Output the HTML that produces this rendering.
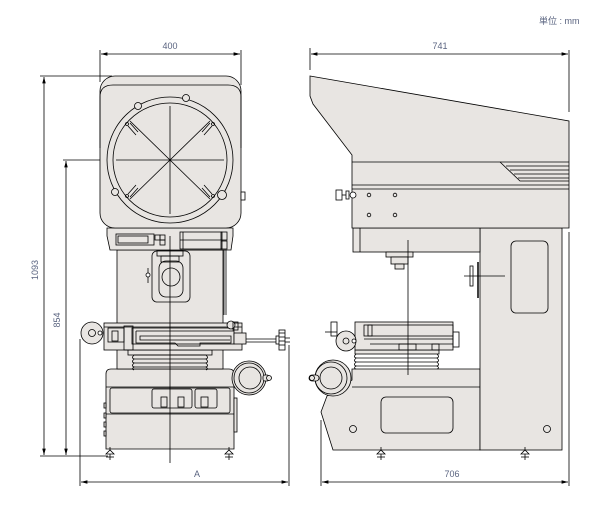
<!DOCTYPE html>
<html><head><meta charset="utf-8"><style>
html,body{margin:0;padding:0;background:#fff;width:603px;height:515px;overflow:hidden}
svg{display:block}
text{font-family:"Liberation Sans","Noto Sans CJK JP",sans-serif;font-size:9px;fill:#5a6480}
</style></head><body>
<svg width="603" height="515" viewBox="0 0 603 515" xmlns="http://www.w3.org/2000/svg">
<defs>
<marker id="a" markerWidth="8" markerHeight="6" refX="8" refY="3" orient="auto-start-reverse"><path d="M0,0.8 L8,3 L0,5.2 Z" fill="#000"/></marker>
</defs>
<g stroke="#000" fill="none" stroke-width="0.8">
<line x1="100" y1="50" x2="100" y2="82"/><line x1="241" y1="50" x2="241" y2="85"/>
<line x1="101" y1="54" x2="240" y2="54" marker-start="url(#a)" marker-end="url(#a)"/>
<line x1="40" y1="76" x2="112" y2="76"/><line x1="40" y1="456" x2="108" y2="456"/>
<line x1="44" y1="77" x2="44" y2="455" marker-start="url(#a)" marker-end="url(#a)"/>
<line x1="63" y1="160" x2="112" y2="160"/>
<line x1="66" y1="161" x2="66" y2="455" marker-start="url(#a)" marker-end="url(#a)"/>
<line x1="80" y1="339" x2="80" y2="486"/><line x1="289" y1="345" x2="289" y2="486"/>
<line x1="81" y1="482" x2="288" y2="482" marker-start="url(#a)" marker-end="url(#a)"/>

<path d="M106,449 L106,374 Q106,369 111,369 L229,369 Q234,369 234,374 L234,449 Z" fill="#e8e5e2"/>
<line x1="106" y1="387" x2="234" y2="387"/><line x1="106" y1="414" x2="234" y2="414"/>
<rect x="110" y="388" width="120" height="25" rx="2"/>
<rect x="152" y="389" width="40" height="19" rx="2"/>
<rect x="195" y="389" width="22" height="19" rx="2"/>
<rect x="161" y="397" width="6" height="10"/><rect x="178" y="397" width="6" height="10"/><rect x="201" y="397" width="7" height="10"/>
<rect x="104" y="403" width="2" height="5" fill="#e8e5e2"/><rect x="104" y="413" width="2" height="5" fill="#e8e5e2"/><rect x="104" y="422" width="2" height="5" fill="#e8e5e2"/><rect x="104" y="431" width="2" height="5" fill="#e8e5e2"/>
<rect x="234" y="398" width="3" height="34" fill="#e8e5e2"/>
<g><line x1="110" y1="447" x2="110" y2="460"/><path d="M106,454 L114,454 L110,450 Z" fill="#fff"/><line x1="106" y1="457" x2="114" y2="457"/></g>
<g><line x1="229" y1="447" x2="229" y2="460"/><path d="M225,454 L233,454 L229,450 Z" fill="#fff"/><line x1="225" y1="457" x2="233" y2="457"/></g>
<circle cx="249" cy="378" r="17" fill="#e8e5e2"/><circle cx="249" cy="378" r="15"/><circle cx="250" cy="378" r="11"/>
<rect x="263" y="375" width="6" height="6" rx="2" fill="#e8e5e2"/><circle cx="269" cy="378" r="2.5" fill="#e8e5e2"/>
<rect x="117" y="250" width="106" height="119" fill="#e8e5e2"/>
<line x1="224" y1="250" x2="224" y2="315"/><line x1="226" y1="250" x2="226" y2="315"/>
<rect x="128" y="350" width="84" height="5" fill="#e8e5e2"/>
<path d="M134,355 q-3,3 0,4 q-3,3 0,4 q-3,3 0,4 q-3,2 0,3 M206,355 q3,3 0,4 q3,3 0,4 q3,3 0,4 q3,2 0,3" />
<line x1="134" y1="359" x2="206" y2="359"/><line x1="134" y1="363" x2="206" y2="363"/><line x1="134" y1="367" x2="206" y2="367"/><line x1="134" y1="355" x2="206" y2="355"/>
<rect x="104" y="323" width="138" height="27" fill="#e8e5e2"/>
<line x1="104" y1="327" x2="242" y2="327"/>
<rect x="132" y="328" width="102" height="16"/>
<rect x="124" y="326" width="9" height="24"/>
<path d="M136,331 L234,331 M136,331 L136,343 L175,343 L178,346 L200,346 L200,343 L231,343 L231,336 L140,336 L140,340 L230,340"/>
<rect x="108" y="328" width="16" height="14"/><rect x="112" y="331" width="6" height="10"/>
<rect x="234" y="333" width="12" height="11" fill="#e8e5e2"/>
<circle cx="231" cy="325" r="4" fill="#e8e5e2"/>
<rect x="233" y="322" width="5" height="8"/>
<line x1="246" y1="339" x2="276" y2="339"/><line x1="246" y1="342" x2="276" y2="342"/>
<rect x="276" y="336" width="5" height="8" fill="#fff"/>
<rect x="279" y="330" width="6" height="20" fill="#fff"/>
<line x1="279" y1="333" x2="285" y2="333"/><line x1="279" y1="337" x2="285" y2="337"/><line x1="279" y1="341" x2="285" y2="341"/><line x1="279" y1="345" x2="285" y2="345"/>
<line x1="285" y1="338" x2="290" y2="338"/><line x1="285" y1="342" x2="290" y2="342"/>
<circle cx="92" cy="333" r="11" fill="#e8e5e2"/><circle cx="92" cy="333" r="3.5"/><circle cx="100" cy="333" r="2" fill="#fff"/>
<rect x="152" y="251" width="38" height="51" rx="5" fill="#e8e5e2"/>
<rect x="159" y="261" width="24" height="36" rx="7"/>
<circle cx="171" cy="277" r="9"/>
<rect x="157" y="251" width="26" height="5" fill="#e8e5e2"/><rect x="161" y="256" width="18" height="6"/>
<line x1="148" y1="268" x2="148" y2="283"/><circle cx="148" cy="275" r="2" fill="#fff"/>
<path d="M107,228 L233,228 L233,236 L231,250 L110,250 L107,236 Z" fill="#e8e5e2"/>
<rect x="116" y="234" width="38" height="11"/><rect x="118" y="236" width="30" height="7"/>
<rect x="155" y="235" width="5" height="5"/><rect x="160" y="235" width="5" height="5"/><rect x="160" y="240" width="5" height="5"/>
<rect x="180" y="232" width="42" height="17"/><line x1="180" y1="240" x2="222" y2="240"/><line x1="183" y1="232" x2="183" y2="249"/>
<rect x="221" y="232" width="6" height="8"/><rect x="221" y="241" width="6" height="8"/>
<rect x="100" y="76" width="141" height="152" rx="15" fill="#e8e5e2"/>
<path d="M100,148 L100,97 Q100,85 113,85 L228,85 Q241,85 241,97 L241,148" />
<circle cx="170" cy="160" r="63"/><circle cx="170" cy="160" r="57"/>
<line x1="116" y1="160" x2="224" y2="160"/><line x1="170" y1="106" x2="170" y2="214"/>
<line x1="130" y1="121" x2="210" y2="199"/><line x1="210" y1="121" x2="130" y2="199"/>
<g fill="#e8e5e2"><circle cx="138" cy="106" r="3.5"/><circle cx="186" cy="98" r="3.5"/><circle cx="115" cy="192" r="3.5"/><circle cx="222" cy="195" r="4.5"/></g>
<g><path d="M128,126 l8,9 M130,123 l8,9" /><path d="M212,126 l-8,9 M210,123 l-8,9"/><path d="M128,194 l8,-9 M130,197 l8,-9"/><path d="M212,194 l-8,-9 M210,197 l-8,-9"/>
<circle cx="127" cy="124" r="1.5"/><circle cx="213" cy="124" r="1.5"/><circle cx="127" cy="196" r="1.5"/><circle cx="213" cy="196" r="1.5"/></g>
<rect x="241" y="192" width="4" height="8" fill="#fff"/>
<line x1="170" y1="236" x2="170" y2="463"/>

<line x1="310" y1="48" x2="310" y2="70"/><line x1="569" y1="50" x2="569" y2="112"/>
<line x1="311" y1="54" x2="568" y2="54" marker-start="url(#a)" marker-end="url(#a)"/>
<line x1="321" y1="420" x2="321" y2="486"/><line x1="569" y1="232" x2="569" y2="486"/>
<line x1="322" y1="482" x2="568" y2="482" marker-start="url(#a)" marker-end="url(#a)"/>
<path d="M352,369 L480,369 L480,450 L333,450 L321,412 L327,396 L352,380 Z" fill="#e8e5e2"/>
<line x1="352" y1="387" x2="480" y2="387"/>
<rect x="381" y="397" width="72" height="36" rx="5"/>
<circle cx="353" cy="429" r="3.5"/>
<rect x="480" y="228" width="82" height="222" fill="#e8e5e2"/>
<circle cx="547" cy="429" r="3.5"/>
<rect x="511" y="241" width="37" height="72" rx="5"/>
<line x1="478" y1="262" x2="478" y2="298" stroke-width="1.5"/>
<rect x="470" y="266" width="3" height="20" fill="#fff"/><line x1="464" y1="276" x2="505" y2="276"/>
<g><line x1="381" y1="447" x2="381" y2="460"/><path d="M377,454 L385,454 L381,450 Z" fill="#fff"/><line x1="377" y1="457" x2="385" y2="457"/></g>
<g><line x1="525" y1="447" x2="525" y2="460"/><path d="M521,454 L529,454 L525,450 Z" fill="#fff"/><line x1="521" y1="457" x2="529" y2="457"/></g>
<circle cx="333" cy="378" r="18" fill="#e8e5e2"/><circle cx="331" cy="378" r="16"/><circle cx="331" cy="378" r="11"/>
<rect x="309" y="375" width="10" height="6" rx="3" fill="#e8e5e2"/><circle cx="312" cy="378" r="2.5" fill="#e8e5e2"/>
<rect x="355" y="350" width="84" height="4" fill="#e8e5e2"/>
<path d="M356,354 q-3,3 0,4 q-3,3 0,4 q-3,3 0,4 q-3,2 0,3 M437,354 q3,3 0,4 q3,3 0,4 q3,3 0,4 q3,2 0,3"/>
<line x1="356" y1="358" x2="437" y2="358"/><line x1="356" y1="362" x2="437" y2="362"/><line x1="356" y1="366" x2="437" y2="366"/>
<rect x="355" y="322" width="98" height="28" fill="#e8e5e2"/>
<rect x="364" y="325" width="89" height="11"/><rect x="368" y="325" width="4" height="11"/>
<line x1="364" y1="339" x2="453" y2="339"/><line x1="370" y1="344" x2="453" y2="344"/>
<rect x="453" y="332" width="6" height="15"/>
<rect x="399" y="344" width="17" height="6"/><rect x="432" y="344" width="7" height="6"/>
<rect x="331" y="322" width="6" height="14" fill="#fff"/><line x1="325" y1="332" x2="337" y2="332"/>
<circle cx="346" cy="341" r="10" fill="#e8e5e2"/><circle cx="346" cy="341" r="3"/><circle cx="354" cy="341" r="2" fill="#fff"/>
<rect x="353" y="228" width="127" height="24" fill="#e8e5e2"/><line x1="360" y1="228" x2="360" y2="252"/>
<rect x="386" y="252" width="27" height="5" fill="#e8e5e2"/><rect x="391" y="257" width="17" height="7" fill="#e8e5e2"/><rect x="395" y="264" width="9" height="5" fill="#e8e5e2"/>
<line x1="408" y1="240" x2="408" y2="375"/>
<path d="M310,76 L569,121 L569,228 L352,228 L352,155 L313,104 L310,96 Z" fill="#e8e5e2"/>
<line x1="352" y1="162" x2="569" y2="162"/><line x1="352" y1="185" x2="569" y2="185"/><line x1="352" y1="189" x2="569" y2="189"/>
<path d="M500,162 L520,181 L569,181 M506,166 L569,166 M510,170 L569,170 M514,174 L569,174 M518,178 L569,178"/>
<g><circle cx="369" cy="195" r="1.8"/><circle cx="395" cy="195" r="1.8"/><circle cx="369" cy="215" r="1.8"/><circle cx="395" cy="215" r="1.8"/></g>
<rect x="336" y="190" width="6" height="10" fill="#fff"/><line x1="342" y1="195" x2="348" y2="195"/><rect x="346" y="191" width="3" height="8" fill="#fff"/><circle cx="353" cy="195" r="3" fill="#fff"/>
</g>
<text x="170" y="49" text-anchor="middle">400</text>
<text x="440" y="49" text-anchor="middle">741</text>
<text x="197" y="477" text-anchor="middle">A</text>
<text x="452" y="477" text-anchor="middle">706</text>
<text transform="translate(38,270) rotate(-90)" text-anchor="middle">1093</text>
<text transform="translate(60,320) rotate(-90)" text-anchor="middle">854</text>
<text x="539" y="24">単位 : mm</text>
</svg>
</body></html>
